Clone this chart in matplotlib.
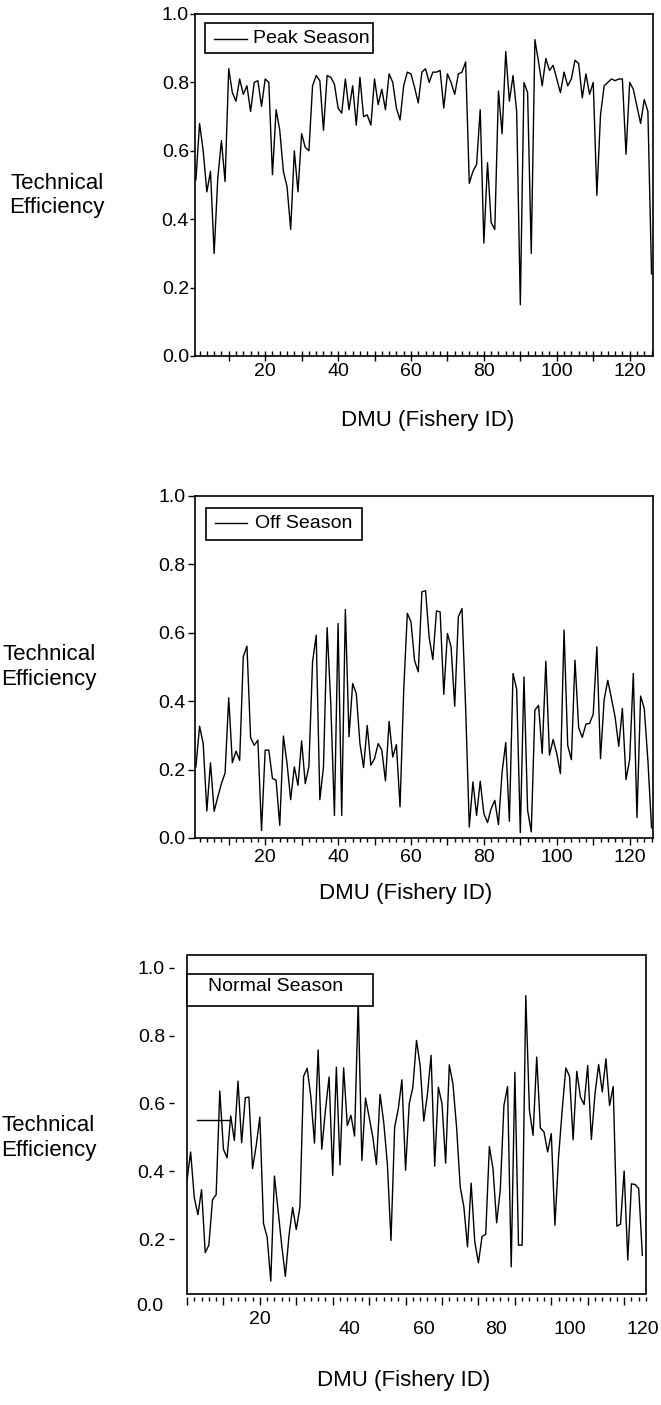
import numpy as np
import matplotlib
matplotlib.use('Agg')
import matplotlib.pyplot as plt
from matplotlib.patches import Rectangle
from matplotlib.lines import Line2D
from matplotlib.ticker import MultipleLocator, FuncFormatter, NullFormatter
from matplotlib.transforms import blended_transform_factory

plt.rcParams['font.family'] = ['Liberation Sans', 'DejaVu Sans']

# ---------------- data ----------------
dmu = np.arange(1, 127)          # DMU ids for peak / off season panels
dmu_normal = np.arange(0, 126)   # DMU positions as drawn in the normal season panel

peak = [0.515, 0.68, 0.60, 0.48, 0.54, 0.30, 0.52, 0.63, 0.51, 0.84,
        0.77, 0.745, 0.81, 0.765, 0.79, 0.715, 0.80, 0.805, 0.73, 0.81,
        0.80, 0.53, 0.72, 0.66, 0.54, 0.495, 0.37, 0.60, 0.48, 0.65,
        0.61, 0.60, 0.79, 0.82, 0.805, 0.66, 0.82, 0.815, 0.795, 0.725,
        0.71, 0.81, 0.72, 0.79, 0.675, 0.815, 0.70, 0.705, 0.675, 0.81,
        0.735, 0.78, 0.72, 0.825, 0.80, 0.725, 0.69, 0.79, 0.83, 0.825,
        0.785, 0.74, 0.83, 0.84, 0.80, 0.83, 0.83, 0.835, 0.725, 0.825,
        0.80, 0.765, 0.825, 0.83, 0.86, 0.505, 0.54, 0.56, 0.72, 0.33,
        0.565, 0.39, 0.37, 0.775, 0.65, 0.89, 0.745, 0.82, 0.715, 0.15,
        0.80, 0.77, 0.30, 0.925, 0.86, 0.79, 0.87, 0.835, 0.85, 0.81,
        0.77, 0.83, 0.79, 0.81, 0.865, 0.855, 0.755, 0.825, 0.765, 0.80,
        0.47, 0.705, 0.79, 0.80, 0.81, 0.805, 0.81, 0.81, 0.59, 0.80,
        0.78, 0.73, 0.68, 0.75, 0.715, 0.24]

off = [0.208, 0.327, 0.276, 0.079, 0.22, 0.078, 0.12, 0.159, 0.19, 0.41,
       0.22, 0.254, 0.227, 0.53, 0.561, 0.294, 0.271, 0.286, 0.022, 0.257,
       0.257, 0.174, 0.169, 0.037, 0.298, 0.218, 0.112, 0.208, 0.154, 0.284,
       0.159, 0.21, 0.515, 0.593, 0.112, 0.208, 0.615, 0.393, 0.066, 0.627,
       0.066, 0.668, 0.296, 0.452, 0.422, 0.276, 0.206, 0.329, 0.213, 0.232,
       0.276, 0.257, 0.167, 0.341, 0.237, 0.273, 0.091, 0.43, 0.657, 0.632,
       0.518, 0.486, 0.72, 0.723, 0.586, 0.522, 0.664, 0.661, 0.42, 0.598,
       0.559, 0.385, 0.647, 0.671, 0.38, 0.032, 0.164, 0.066, 0.166, 0.071,
       0.045, 0.086, 0.11, 0.039, 0.193, 0.279, 0.049, 0.481, 0.435, 0.016,
       0.471, 0.081, 0.018, 0.374, 0.388, 0.247, 0.517, 0.242, 0.288, 0.247,
       0.188, 0.608, 0.271, 0.229, 0.52, 0.323, 0.294, 0.333, 0.335, 0.362,
       0.559, 0.232, 0.405, 0.461, 0.408, 0.354, 0.268, 0.379, 0.171, 0.229,
       0.481, 0.06, 0.415, 0.379, 0.227, 0.03]

normal = [0.373, 0.457, 0.322, 0.272, 0.346, 0.16, 0.182, 0.316, 0.331, 0.637,
          0.465, 0.44, 0.563, 0.491, 0.666, 0.484, 0.617, 0.619, 0.408, 0.476,
          0.56, 0.246, 0.206, 0.076, 0.386, 0.285, 0.182, 0.09, 0.211, 0.293,
          0.228, 0.295, 0.68, 0.704, 0.619, 0.483, 0.758, 0.465, 0.58, 0.678,
          0.388, 0.707, 0.419, 0.705, 0.535, 0.565, 0.504, 0.9, 0.432, 0.616,
          0.56, 0.501, 0.42, 0.627, 0.545, 0.422, 0.196, 0.53, 0.584, 0.67,
          0.403, 0.599, 0.648, 0.786, 0.712, 0.548, 0.627, 0.742, 0.415, 0.648,
          0.599, 0.424, 0.714, 0.658, 0.53, 0.354, 0.295, 0.177, 0.365, 0.192,
          0.13, 0.208, 0.214, 0.473, 0.408, 0.248, 0.346, 0.594, 0.65, 0.118,
          0.692, 0.182, 0.182, 0.918, 0.58, 0.506, 0.737, 0.528, 0.516, 0.457,
          0.511, 0.241, 0.442, 0.582, 0.705, 0.68, 0.493, 0.695, 0.619, 0.597,
          0.712, 0.494, 0.629, 0.715, 0.634, 0.732, 0.594, 0.65, 0.238, 0.244,
          0.401, 0.138, 0.363, 0.361, 0.349, 0.152]

series_labels = ['Peak Season', 'Off Season', 'Normal Season']
y_ticks = [0.0, 0.2, 0.4, 0.6, 0.8, 1.0]
x_tick_labels = ['20', '40', '60', '80', '100', '120']
y_title = 'Technical\nEfficiency'
x_title = 'DMU (Fishery ID)'

# ---------------- layout ----------------
W, H = 661, 1405
fig = plt.figure(figsize=(W / 100, H / 100), dpi=100)


def rect(l, t, r, b):
    return [l / W, 1 - b / H, (r - l) / W, (b - t) / H]


PX = 0.72  # points per pixel at 100 dpi
TICK_FS = 14
LAB_FS = 16
SPINE_LW = 1.2


def key(ax, box, label, text_xy, line=None):
    x0, y0, x1, y1 = box
    ax.add_patch(Rectangle((x0, y0), x1 - x0, y1 - y0, transform=ax.transAxes,
                           facecolor='white', edgecolor='black', lw=SPINE_LW,
                           zorder=6, clip_on=False))
    if line is not None:
        ax.add_line(Line2D([line[0], line[1]], [line[2], line[2]],
                           transform=ax.transAxes, color='black', lw=1.0, zorder=7))
    ax.text(text_xy[0], text_xy[1], label, transform=ax.transAxes, ha='left',
            va='center', fontsize=TICK_FS, zorder=7)


def fmt_y(v, p):
    return f'{v:.1f}'


def fmt_x(v, p):
    iv = int(round(v))
    return str(iv) if iv % 20 == 0 and iv > 0 else ''


def top_panel(axrect, x, y, label, ylab_xy, xlab_xy, keybox, keyline, keytext,
              ytick_len, ytick_pad, xlab_pad, xtick_dir):
    ax = fig.add_axes(axrect)
    ax.plot(x, y, color='black', lw=1.0)
    ax.set_xlim(0.75, 126.4)
    ax.set_ylim(0, 1)
    ax.set_yticks(y_ticks)
    ax.yaxis.set_major_formatter(FuncFormatter(fmt_y))
    ax.xaxis.set_major_locator(MultipleLocator(10))
    ax.xaxis.set_minor_locator(MultipleLocator(2))
    ax.xaxis.set_major_formatter(FuncFormatter(fmt_x))
    if xtick_dir == 'in':
        ax.tick_params(axis='x', which='major', direction='inout', length=10 * PX,
                       width=1.0, pad=xlab_pad, labelsize=TICK_FS)
        ax.tick_params(axis='x', which='minor', direction='in', length=5 * PX, width=1.0)
    else:
        ax.tick_params(axis='x', which='major', direction='out', length=7 * PX,
                       width=1.0, pad=xlab_pad, labelsize=TICK_FS)
        ax.tick_params(axis='x', which='minor', direction='out', length=4 * PX, width=1.0)
    ax.tick_params(axis='y', direction='out', length=ytick_len * PX, width=1.0,
                   pad=ytick_pad * PX, labelsize=TICK_FS)
    for s in ax.spines.values():
        s.set_linewidth(SPINE_LW)
    ax.set_ylabel(y_title, rotation=0, ha='center', va='center', fontsize=LAB_FS,
                  linespacing=1.2)
    ax.yaxis.set_label_coords(*ylab_xy)
    ax.set_xlabel(x_title, fontsize=LAB_FS, va='center', ha='center')
    ax.xaxis.set_label_coords(*xlab_xy)
    key(ax, keybox, label, keytext, keyline)
    return ax


# Panel 1: Peak season
top_panel(rect(195, 14, 653, 356), dmu, peak, series_labels[0],
          (-0.301, 0.47), (0.507, -0.19),
          (0.022, 0.886, 0.389, 0.974), (0.0415, 0.1135, 0.928), (0.127, 0.928),
          5, 1.0, 1.5, 'in')

# Panel 2: Off season
top_panel(rect(195, 496, 653, 838), dmu, off, series_labels[1],
          (-0.319, 0.50), (0.459, -0.161),
          (0.025, 0.871, 0.365, 0.965), (0.044, 0.114, 0.921), (0.131, 0.921),
          7, 2.5, 3.0, 'out')

# Panel 3: Normal season
ax3 = fig.add_axes(rect(187, 955, 646, 1294))
ax3.plot(dmu_normal, normal, color='black', lw=1.0)
ax3.set_xlim(0, 126)
ax3.set_ylim(0.038, 1.038)
for s in ax3.spines.values():
    s.set_visible(False)
ax3.spines['left'].set_position(('outward', 13 * PX))
ax3.spines['bottom'].set_position(('outward', 3 * PX))
ax3.add_patch(Rectangle((0, 0), 1, 1, transform=ax3.transAxes, fill=False,
                        edgecolor='black', lw=SPINE_LW, clip_on=False, zorder=5))
ax3.set_yticks(y_ticks[1:])
ax3.yaxis.set_major_formatter(FuncFormatter(fmt_y))
ax3.tick_params(axis='y', direction='out', length=5 * PX, width=1.0, pad=4 * PX,
                labelsize=TICK_FS)
ax3.xaxis.set_major_locator(MultipleLocator(10))
ax3.xaxis.set_minor_locator(MultipleLocator(2))
ax3.xaxis.set_major_formatter(NullFormatter())
ax3.tick_params(axis='x', which='major', direction='out', length=8 * PX, width=1.0)
ax3.tick_params(axis='x', which='minor', direction='out', length=4 * PX, width=1.0)
# tick labels as they sit in the original figure
lab_tr = blended_transform_factory(ax3.transData, ax3.transAxes)
lab_x = [20.0, 44.7, 65.0, 84.8, 105.1, 125.2]
lab_y = [-0.074, -0.106, -0.106, -0.106, -0.106, -0.106]
for t, lx, ly in zip(x_tick_labels, lab_x, lab_y):
    ax3.text(lx, ly, t, transform=lab_tr, ha='center', va='center',
             fontsize=TICK_FS, clip_on=False)
zero_tr = blended_transform_factory(ax3.transAxes, ax3.transData)
ax3.text(-0.052, y_ticks[0], f'{y_ticks[0]:.1f}', transform=zero_tr, ha='right',
         va='center', fontsize=TICK_FS, clip_on=False)
ax3.set_ylabel(y_title, rotation=0, ha='center', va='center', fontsize=LAB_FS,
               linespacing=1.2)
ax3.yaxis.set_label_coords(-0.302, 0.46)
ax3.set_xlabel(x_title, fontsize=LAB_FS, va='center', ha='center')
ax3.xaxis.set_label_coords(0.473, -0.254)
key(ax3, (0.0, 0.850, 0.405, 0.944), series_labels[2], (0.046, 0.906))
# detached key line of the original
ax3.add_line(Line2D([0.022, 0.094], [0.513, 0.513], transform=ax3.transAxes,
                    color='black', lw=1.0, zorder=7))

fig.savefig('out.png', dpi=100)
